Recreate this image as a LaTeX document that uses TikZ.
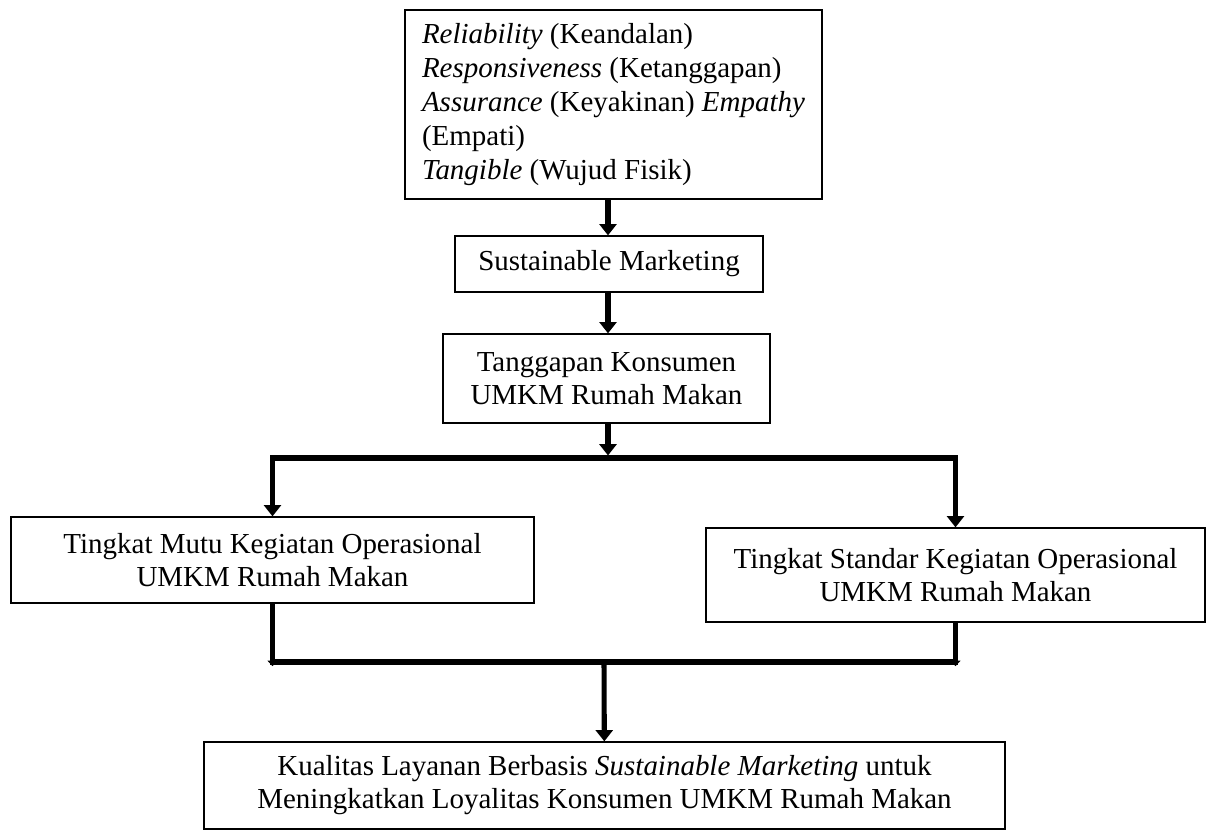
\documentclass[tikz,border=0pt]{standalone}
\usepackage{fontspec}
\setmainfont{Liberation Serif}
\usetikzlibrary{positioning,calc,arrows.meta}
\tikzset{box/.style={draw,line width=0.9pt,align=center,inner sep=0pt,font=\fontsize{20.6}{23.5}\selectfont}}
\tikzset{arr/.style={line width=3.6pt,-{Triangle[length=8pt,width=12pt]}}}
\tikzset{small arr/.style={line width=3.6pt,-{Triangle[length=4pt,width=7pt]},shorten >=-3pt}}
\tikzset{bar/.style={line width=3.6pt,line cap=rect}}

\begin{document}
\begin{tikzpicture}[x=0.025cm,y=-0.025cm]
      \useasboundingbox (0,0) rectangle (1210,831);
      \node[box,align=left,minimum width=10.425cm,minimum height=4.725cm,
            font=\fontsize{20.6}{24.2}\selectfont] (rel) at (613.5,104.5)
            {\textit{Reliability} (Keandalan)\\
             \textit{Responsiveness} (Ketanggapan)\\
             \textit{Assurance} (Keyakinan) \textit{Empathy}\\
             (Empati)\\
             \textit{Tangible} (Wujud Fisik)};
      \node[box,minimum width=7.7cm,minimum height=1.4cm] (sm) at (609,264) {Sustainable Marketing};
      \node[box,minimum width=8.175cm,minimum height=2.225cm] (tk) at (606.5,378.5) {Tanggapan Konsumen\\UMKM Rumah Makan};
      \node[box,minimum width=13.075cm,minimum height=2.15cm] (mutu) at (272.5,560) {Tingkat Mutu Kegiatan Operasional\\UMKM Rumah Makan};
      \node[box,minimum width=12.475cm,minimum height=2.35cm] (std) at (955.5,575) {Tingkat Standar Kegiatan Operasional\\UMKM Rumah Makan};
      \node[box,minimum width=20.025cm,minimum height=2.175cm] (kl) at (604.5,785.5) {Kualitas Layanan Berbasis \textit{Sustainable Marketing} untuk\\Meningkatkan Loyalitas Konsumen UMKM Rumah Makan};
      \coordinate (split) at (608,458);
      \coordinate (merge) at (604,662);
      % arrows
      \draw[arr] (rel.south -| split) -- (sm.north -| split);
      \draw[arr] (sm.south -| split) -- (tk.north -| split);
      \draw[arr,shorten >=1.8pt] (tk.south -| split) -- (split);
      \draw[bar] (split -| mutu) -- (split -| std);
      \draw[arr] (split -| mutu) -- (mutu);
      \draw[arr] (split -| std) -- (std);
      \draw[small arr] (mutu) -- (mutu |- merge);
      \draw[small arr] (std) -- (std |- merge);
      \draw[bar] (merge -| mutu) -- (merge -| std);
      \draw[arr] (merge) -- (kl);
    \end{tikzpicture}
\end{document}
